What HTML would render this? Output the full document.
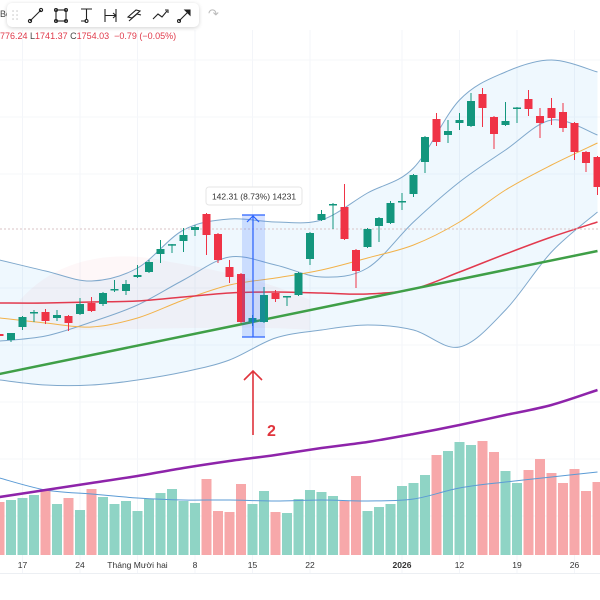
<!DOCTYPE html>
<html><head><meta charset="utf-8"><style>
html,body{margin:0;padding:0;background:#fff;width:600px;height:600px;overflow:hidden;font-family:"Liberation Sans","Noto Sans CJK SC",sans-serif}
svg{display:block}
</style></head><body>
<svg id="chart" width="600" height="600" viewBox="0 0 600 600">
<g id="grid"></g>
<g id="bands"></g>
<g id="vol"></g>
<g id="lines"></g>
<g id="candles"></g>
<g id="overlay"></g>
<g id="xaxis"></g>
</svg>
<script>
const opens=[1629.2,1622,1637.6,1654.4,1655.6,1648.4,1650.8,1653.2,1666.4,1665.2,1682,1680.8,1697.6,1703.6,1725.2,1736,1740.8,1754,1773.2,1749.2,1709.6,1701.2,1643.6,1643.6,1678.4,1673.6,1676,1719.2,1766,1784,1781.6,1730,1733.6,1758.8,1762.4,1787.6,1797.2,1835.6,1887.2,1868,1882.4,1878.8,1917.2,1889.6,1880,1900.4,1911.2,1890.8,1900.4,1895.6,1882.4,1847.6,1841.6];
const highs=[1631.6,1630.4,1650.8,1658,1659.2,1658,1652,1672.4,1673.6,1679.6,1694,1694,1712,1718,1742,1737.2,1756.4,1760,1774.4,1750.4,1718,1702.4,1652,1685.6,1682,1674.8,1703.6,1751.6,1778,1786.4,1809.2,1731.2,1756.4,1769.6,1788.8,1798.4,1821.2,1866.8,1894.4,1886,1894.4,1918.4,1924.4,1890.8,1907.6,1901.6,1922,1900.4,1912.4,1906.4,1883.6,1848.8,1842.8];
const lows=[1624.4,1619.6,1634,1643.6,1641.2,1644.8,1632.8,1652,1655.6,1662.8,1679.6,1676,1696.4,1702.4,1714.4,1726.4,1727.6,1746.8,1724,1714.4,1690.4,1642.4,1638.8,1642.4,1667.6,1662.8,1674.8,1712,1764.8,1755.2,1742,1684.4,1732.4,1739.6,1761.2,1778,1793.6,1822.4,1854.8,1858.4,1874,1877.6,1877.6,1851.2,1878.8,1882.4,1890.8,1864.4,1880,1871.6,1838,1823.6,1796];
const closes=[1626.8,1630.4,1649.6,1655.6,1644.8,1652,1642.4,1665.2,1656.8,1678.4,1683.2,1689.2,1700,1715.6,1731.2,1737,1748,1757.6,1748,1718,1697.6,1643.6,1648.4,1676,1671.2,1674.8,1702.4,1750.4,1773.2,1785.2,1743.2,1704.8,1755.2,1768.4,1786.4,1788.8,1820,1865.6,1859.6,1872.8,1886,1908.8,1900.4,1869.2,1884.8,1901,1899.2,1882.4,1888.4,1876.4,1847.6,1834.4,1805.6];
const volumes=[530,550,570,600,640,510,570,450,660,580,510,540,440,560,620,660,540,520,760,440,430,710,510,640,430,420,560,650,630,590,540,790,440,480,510,690,720,800,1000,1040,1130,1100,1140,1030,840,720,850,960,820,720,860,640,730];
const lineIdx=[0,4,8,12,16,20,24,28,32,36,40,44,48,52];
const bbUpper=[1718,1704.8,1692.8,1708.4,1754,1767.2,1763.6,1766,1798.4,1828.4,1910,1943.6,1958,1943.6];
const bbInner=[1620.8,1626.8,1643.6,1664,1694,1721.6,1712,1697.6,1708.4,1763.6,1811.6,1850,1886,1868];
const bbLower=[1574,1568,1568,1574,1583.6,1598,1624.4,1634,1640,1634,1613.6,1658,1727.6,1775.6];
const ma20=[1648.4,1642.4,1637.6,1648.4,1670,1688,1696.4,1706,1720.4,1736,1763.6,1802,1832,1858.4];
const ma50=[1666.4,1666.4,1667.6,1668.8,1673.6,1678.4,1679.6,1678.4,1677.2,1683.2,1703.6,1725.2,1745.6,1763.6];
const ma200=[1433.6,1442,1450.4,1458.8,1468.4,1476.8,1484,1492.4,1499.6,1509.2,1520,1532,1544,1562];
const volMA=[770,650,610,570,550,550,540,550,540,560,670,730,780,830];
const trendIdx=[0,52];
const trendVals=[1581.2,1728.8];
const tickIdx=[2,7,12,17,22,27,35,40,45,50];
const tickLabels=["17","24","Tháng Mười hai","8","15","22","2026","12","19","26"];

const NS="http://www.w3.org/2000/svg";
function X(k){return 11.5*k-0.5;}
function Y(p){return (2030-p)/1.2;}
function VY(v){return 555-v/10;}
function mk(tag,attrs,parent){const e=document.createElementNS(NS,tag);for(const a in attrs)e.setAttribute(a,attrs[a]);parent.appendChild(e);return e;}
const G=id=>document.getElementById(id);
function pts(idx,vals,f){return idx.map((k,i)=>[X(k),f(vals[i])]);}
function smooth(P,start){let d=(start?'M':'L')+P[0][0].toFixed(1)+','+P[0][1].toFixed(1);
for(let i=0;i<P.length-1;i++){const p0=P[Math.max(0,i-1)],p1=P[i],p2=P[i+1],p3=P[Math.min(P.length-1,i+2)];
const c1=[p1[0]+(p2[0]-p0[0])/6,p1[1]+(p2[1]-p0[1])/6],c2=[p2[0]-(p3[0]-p1[0])/6,p2[1]-(p3[1]-p1[1])/6];
d+=' C'+c1[0].toFixed(1)+','+c1[1].toFixed(1)+' '+c2[0].toFixed(1)+','+c2[1].toFixed(1)+' '+p2[0].toFixed(1)+','+p2[1].toFixed(1);}
return d;}

// grid
const grid=G('grid');
tickIdx.forEach(k=>{const l=mk('line',{x1:X(k),x2:X(k),y1:30,y2:573,stroke:'#f3f5f9','stroke-width':1},grid);

});
[60,117,174,288,345,402,459,516].forEach(y=>{const l=mk('line',{x1:0,x2:600,y1:y,y2:y,stroke:'#f5f7fa','stroke-width':1},grid);

});

const cl=mk('path',{d:'M20,300 C60,255 120,250 170,262 C220,270 270,282 310,300 L310,330 C250,325 150,330 20,330 Z',fill:'rgba(242,54,69,0.04)'},G('bands'));


const up=pts(lineIdx,bbUpper,Y),lo=pts(lineIdx,bbLower,Y).reverse();
const bf=mk('path',{d:smooth(up,true)+' '+smooth(lo,false)+' Z',fill:'rgba(33,150,243,0.07)'},G('bands'));



// volume
const vol=G('vol');
volumes.forEach((v,k)=>{const upc=closes[k]>=opens[k];
const r=mk('rect',{x:X(k)-5,y:VY(v),width:10,height:555-VY(v),fill:upc?'#8fd4c5':'#f7a8aa'},vol);

});
const vm=mk('path',{d:smooth(pts(lineIdx,volMA,VY),true),fill:'none',stroke:'#5b9bd5','stroke-width':1},vol);



// lines
const ln=G('lines');
function line(vals,color,w,name){const p=mk('path',{d:smooth(pts(lineIdx,vals,Y),true),fill:'none',stroke:color,'stroke-width':w},ln);

}
line(bbUpper,'#7fa8cc',1,'bb-upper-line');
line(bbInner,'#7fa8cc',1,'bb-inner-line');
line(bbLower,'#7fa8cc',1,'bb-lower-line');
line(ma20,'#f2b24a',1,'ma20-line');
line(ma50,'#e23a4e',1.5,'ma50-line');
line(ma200,'#8e24aa',2.5,'ma200-line');
const tl=mk('path',{d:'M'+X(trendIdx[0])+','+Y(trendVals[0])+' L'+X(trendIdx[1])+','+Y(trendVals[1]),fill:'none',stroke:'#3f9f47','stroke-width':2.5},ln);


const pl=mk('line',{x1:0,x2:600,y1:229,y2:229,stroke:'#d9c3c6','stroke-width':1,'stroke-dasharray':'2,2'},ln);



// candles
const cg=G('candles');
opens.forEach((o,k)=>{const c=closes[k],upc=c>=o,col=upc?'#13967d':'#ef3346';
const w=mk('line',{x1:X(k),x2:X(k),y1:Y(highs[k]),y2:Y(lows[k]),stroke:col,'stroke-width':1},cg);


const top=Y(Math.max(o,c)),h=Math.max(1.5,Math.abs(Y(o)-Y(c)));
const b=mk('rect',{x:X(k)-4,y:top,width:8,height:h,fill:col},cg);

});

// overlay
const ov=G('overlay');
const mb=mk('rect',{x:242,y:215,width:23,height:122,fill:'rgba(41,98,255,0.18)'},ov);


[215,337].forEach(y=>{const l=mk('line',{x1:242,x2:265,y1:y,y2:y,stroke:'#2962ff','stroke-width':1.2},ov);

});
const mv=mk('path',{d:'M253,337 L253,216 M247,222 L253,216 L259,222',fill:'none',stroke:'#2962ff','stroke-width':1.2},ov);


const lb=mk('rect',{x:206,y:187,width:96,height:18,rx:3,fill:'#fff',stroke:'#e6e6e6'},ov);


const lt=mk('text',{x:254,y:199.5,'font-size':8.5,'text-anchor':'middle',fill:'#333'},ov);
lt.textContent='142.31 (8.73%) 14231';


const ra=mk('path',{d:'M253,435 L253,371 M244,380 L253,371 L262,380',fill:'none',stroke:'#e0343c','stroke-width':1.6},ov);


const rt=mk('text',{x:267,y:436,'font-size':16,'font-weight':'bold',fill:'#e0343c'},ov);
rt.textContent='2';



// x-axis
const xa=G('xaxis');
const sep=mk('line',{x1:0,x2:600,y1:573.5,y2:573.5,stroke:'#eceff3'},xa);


tickIdx.forEach((k,i)=>{const t=mk('text',{x:X(k),y:568,'font-size':8.5,'text-anchor':'middle',fill:'#333','font-weight':tickLabels[i]==='2026'?'bold':'normal'},xa);
t.textContent=tickLabels[i];

});
</script>
<div style="position:absolute;left:0;top:31px;font-size:9px;color:#e0394a;white-space:nowrap">776.24 <span style="color:#444">L</span>1741.37 <span style="color:#444">C</span>1754.03 &nbsp;−0.79 (−0.05%)</div>
<div style="position:absolute;left:0;top:9px;font-size:9px;color:#444">Bc</div>
<div style="position:absolute;left:7px;top:3px;width:192px;height:24px;background:#fff;border-radius:5px;box-shadow:0 1px 4px rgba(0,0,0,0.18)">
<svg width="192" height="24" viewBox="0 0 192 24" style="position:absolute;left:0;top:0" fill="none" stroke="#222" stroke-width="1.1">
<g stroke="#ccc"><path d="M6,8h0.1M10,8h0.1M6,12h0.1M10,12h0.1M6,16h0.1M10,16h0.1" stroke-width="1.6" stroke-linecap="round"/></g>
<g><path d="M23,18 L34,7"/><circle cx="23" cy="18" r="1.6"/><circle cx="34" cy="7" r="1.6"/></g>
<g><rect x="49" y="7" width="10" height="11"/><circle cx="49" cy="7" r="1.5"/><circle cx="59" cy="7" r="1.5"/><circle cx="49" cy="18" r="1.5"/><circle cx="59" cy="18" r="1.5"/></g>
<g><path d="M74,6h11M79.5,6v11M74,18h5"/><circle cx="79.5" cy="18" r="1.5"/></g>
<g><path d="M98,6v13M109,6v13M98,12.5h11M106,10l3,2.5-3,2.5"/></g>
<g><path d="M121,14l8,-7 4,1 -8,7z M122,18l8,-7 4,1"/></g>
<g><path d="M146,16l5,-5 4,3 5,-6"/><path d="M158,7l3,0 0,3"/></g>
<g><path d="M172,18l10,-10"/><path d="M178,7l5,0 0,5z" fill="#222"/><circle cx="172" cy="18" r="1.5"/></g>
</svg></div>
<div style="position:absolute;left:208px;top:6px;font-size:13px;color:#bbb">↷</div>
</body></html>
